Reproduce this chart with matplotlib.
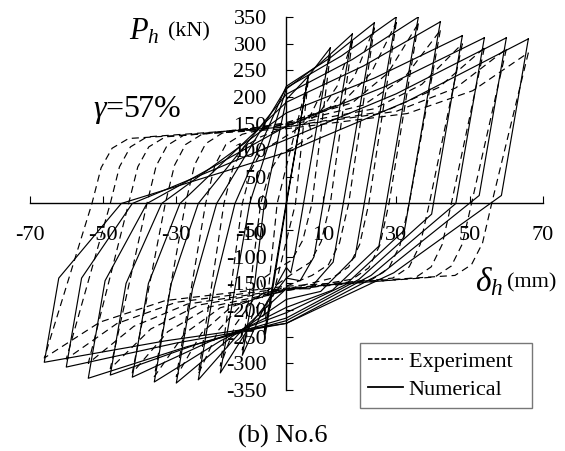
import numpy as np
import matplotlib
matplotlib.use("Agg")
import matplotlib.pyplot as plt
from matplotlib.lines import Line2D

# ---------------- data ----------------
amplitudes = [6, 12, 18, 24, 30, 36, 42, 48, 54, 60, 66]          # mm

# Experiment (dashed)
exp_peak_pos = [235, 280, 305, 330, 340, 338, 325, 300, 292, 290, 283]
exp_peak_neg = [-240, -275, -305, -320, -325, -325, -318, -310, -300, -292, -290]
exp_zero_pos = [2.5, 7, 12, 17, 22.5, 28, 33.5, 39, 45, 50.5, 56]
exp_zero_neg = [-2.5, -7, -12, -17, -22, -27.5, -33, -38, -43, -48, -53]
exp_plat_pos = [0, 110, 118, 125, 130, 132, 130, 128, 125, 125, 122]
exp_plat_neg = [0, -125, -130, -135, -140, -142, -142, -140, -140, -138, -135]

# Numerical (solid)
num_peak_pos = [240, 292, 318, 339, 350, 350, 341, 315, 311, 311, 309]
num_peak_neg = [-245, -285, -318, -331, -337, -335, -326, -322, -328, -307, -298]
num_knee_pos = [0, -90, -100, -110, -100, -80, -50, -20, 0, 15, 15]
num_mid_neg = [0, -120, -140, -160, -180, -195, -205, -215, -220, -225, -225]
num_knee_neg = [0, -150, -160, -160, -160, -150, -150, -150, -145, -140, -140]
num_zero_neg = [0, -6, -10, -14, -19, -24, -29, -34, -38, -42, -45]
num_mid_pos = [0, 195, 215, 220, 217, 205, 190, 170, 145, 120, 96]

x_ticks = [-70, -50, -30, -10, 10, 30, 50, 70]
y_ticks = list(range(-350, 351, 50))

# ---------------- figure ----------------
plt.rcParams["font.family"] = ["Liberation Serif", "DejaVu Serif"]
plt.rcParams["mathtext.fontset"] = "custom"
plt.rcParams["mathtext.rm"] = "Liberation Serif"
plt.rcParams["mathtext.it"] = "Liberation Serif:italic"
plt.rcParams["axes.unicode_minus"] = False

fig = plt.figure(figsize=(5.65, 4.51), dpi=100)
ax = fig.add_axes([0.0524, 0.1353, 0.9087, 0.827])
ax.set_xlim(-70, 70)
ax.set_ylim(-350, 350)

lw = 0.85
K_UNLOAD = 40.0   # unloading stiffness of the numerical model, kN/mm


def exp_loop(D, Pp, Pn, zp, zn, plp, pln):
    if plp == 0:
        return [-D, zn, D, zp, -D], [Pn, 0, Pp, 0, Pn]
    pts = []
    # negative-going branch
    pts += [(D, Pp), (zp, 0), (zp - 2.5, 0.55 * pln), (zp - 5.5, 0.85 * pln),
            (zp - 10, pln)]
    p0n = pln * 1.15
    pts += [(min(0, zp - 14), p0n)]
    pts += [(-0.5 * D, p0n + 0.2 * (Pn - p0n)), (-0.77 * D, p0n + 0.5 * (Pn - p0n)),
            (-D, Pn)]
    # positive-going branch
    pts += [(zn, 0), (zn + 2.5, 0.55 * plp), (zn + 5.5, 0.85 * plp), (zn + 10, plp)]
    p0p = plp * 1.15
    pts += [(max(0, zn + 14), p0p)]
    pts += [(0.5 * D, p0p + 0.2 * (Pp - p0p)), (0.77 * D, p0p + 0.5 * (Pp - p0p)),
            (D, Pp)]
    return [p[0] for p in pts], [p[1] for p in pts]


def num_loop(D, Pp, Pn, kp, mn, kn, zn, mp):
    if mn == 0:
        return [-D + 0.3, 0.3, D, -0.3, -D], [Pn, 10, Pp, -10, Pn]
    pts = []
    # negative-going branch
    xk = D - (Pp - kp) / K_UNLOAD
    pts += [(D, Pp), (xk, kp), (0.5 * xk, 0.5 * (kp + mn) - 25), (0, mn),
            (-0.5 * D, mn + 0.45 * (Pn - mn)), (-D, Pn)]
    # positive-going branch
    xk2 = -D + (kn - Pn) / K_UNLOAD
    pts += [(xk2, kn), (zn, 0), (0, mp),
            (0.5 * D, mp + 0.45 * (Pp - mp)), (D, Pp)]
    return [p[0] for p in pts], [p[1] for p in pts]


dash = (0, (6, 4))
for i, D in enumerate(amplitudes):
    xs, ys = exp_loop(D, exp_peak_pos[i], exp_peak_neg[i], exp_zero_pos[i],
                      exp_zero_neg[i], exp_plat_pos[i], exp_plat_neg[i])
    ax.plot(xs, ys, color="black", lw=lw, ls=dash)
    xs, ys = num_loop(D, num_peak_pos[i], num_peak_neg[i], num_knee_pos[i],
                      num_mid_neg[i], num_knee_neg[i], num_zero_neg[i],
                      num_mid_pos[i])
    ax.plot(xs, ys, color="black", lw=lw, ls="-")

# axes through origin
for s in ["top", "right"]:
    ax.spines[s].set_visible(False)
ax.spines["left"].set_position(("data", 0))
ax.spines["bottom"].set_position(("data", 0))
ax.spines["left"].set_linewidth(1.0)
ax.spines["bottom"].set_linewidth(1.0)
ax.set_xticks(x_ticks)
ax.set_yticks(y_ticks)
ax.tick_params(axis="x", direction="in", length=5, pad=16, labelsize=16)
ax.tick_params(axis="y", direction="in", length=5, pad=14, labelsize=16)

fig.text(0.255, 0.929, r"$P_h$", fontsize=22, ha="center", va="center")
fig.text(0.297, 0.929, "(kN)", fontsize=16, ha="left", va="center")
fig.text(0.242, 0.756, r"$\gamma$=57%", fontsize=23, ha="center", va="center")
fig.text(0.865, 0.375, r"$\delta_h$", fontsize=24, ha="center", va="center")
fig.text(0.898, 0.373, "(mm)", fontsize=16, ha="left", va="center")
fig.text(0.50, 0.033, "(b) No.6", fontsize=19, ha="center", va="center")

handles = [Line2D([], [], color="black", lw=1.3, ls=(0, (2.5, 1.2))),
           Line2D([], [], color="black", lw=1.3, ls="-")]
leg = fig.legend(handles, ["Experiment  ", "Numerical"], loc="upper left",
                 bbox_to_anchor=(0.637, 0.239), bbox_transform=fig.transFigure,
                 fontsize=16, frameon=True, fancybox=False, handlelength=1.6,
                 handletextpad=0.25, borderpad=0.35, labelspacing=0.35,
                 borderaxespad=0)
leg.get_frame().set_edgecolor("#555555")
leg.get_frame().set_linewidth(1.0)

fig.savefig("out.png", dpi=100)
